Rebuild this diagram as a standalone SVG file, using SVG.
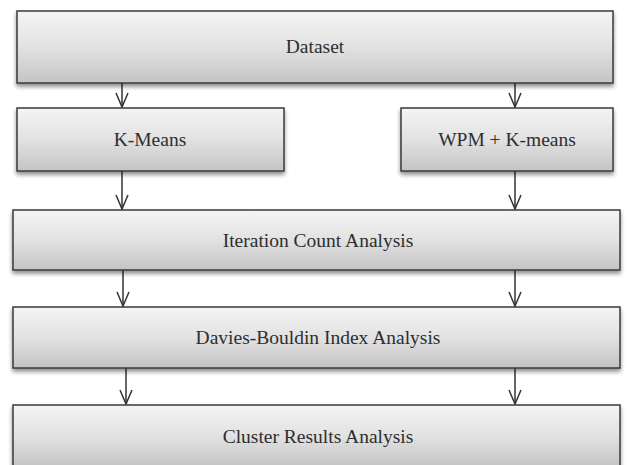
<svg xmlns="http://www.w3.org/2000/svg" width="637" height="465" viewBox="0 0 637 465">
<defs>
<linearGradient id="g" x1="0" y1="0" x2="0" y2="1">
<stop offset="0" stop-color="#f4f4f4"/>
<stop offset="0.5" stop-color="#e2e2e2"/>
<stop offset="1" stop-color="#c4c4c4"/>
</linearGradient>
<filter id="sh" x="-5%" y="-20%" width="110%" height="150%">
<feGaussianBlur in="SourceAlpha" stdDeviation="2"/>
<feOffset dx="0" dy="3" result="b"/>
<feComponentTransfer><feFuncA type="linear" slope="0.45"/></feComponentTransfer>
<feMerge><feMergeNode/><feMergeNode in="SourceGraphic"/></feMerge>
</filter>
<marker id="ah" viewBox="0 0 16 14" refX="15" refY="7" markerWidth="16" markerHeight="14" markerUnits="userSpaceOnUse" orient="auto">
<path d="M1,1 L15,7 L1,13" fill="none" stroke="#333" stroke-width="1.5"/>
</marker>
</defs>
<style>
.box{fill:url(#g);stroke:#3a3a3a;stroke-width:1.5;filter:url(#sh)}
.t{font-family:"Liberation Serif","Times New Roman",serif;font-size:19.5px;fill:#2e2e2e;text-anchor:middle;dominant-baseline:central}
.c{stroke:#333;stroke-width:1.5;fill:none;marker-end:url(#ah)}
</style>
<rect width="637" height="465" fill="#ffffff"/>
<g id="connectors">
<line class="c" x1="122" y1="83" x2="122" y2="107"/>
<line class="c" x1="515" y1="83" x2="515" y2="107"/>
<line class="c" x1="122" y1="171" x2="122" y2="209"/>
<line class="c" x1="515" y1="171" x2="515" y2="209"/>
<line class="c" x1="123" y1="270" x2="123" y2="306"/>
<line class="c" x1="515" y1="270" x2="515" y2="306"/>
<line class="c" x1="126" y1="368" x2="126" y2="404"/>
<line class="c" x1="515" y1="368" x2="515" y2="404"/>
</g>
<g id="dataset"><rect class="box" x="17" y="11" width="596" height="72"/><text class="t" x="315" y="46">Dataset</text></g>
<g id="kmeans"><rect class="box" x="17" y="108" width="267" height="63"/><text class="t" x="150" y="139">K-Means</text></g>
<g id="wpm"><rect class="box" x="401" y="108" width="212" height="63"/><text class="t" x="507" y="139">WPM + K-means</text></g>
<g id="iteration"><rect class="box" x="13" y="210" width="607" height="60"/><text class="t" x="318" y="240">Iteration Count Analysis</text></g>
<g id="davies"><rect class="box" x="13" y="307" width="607" height="61"/><text class="t" x="318" y="337">Davies-Bouldin Index Analysis</text></g>
<g id="cluster"><rect class="box" x="13" y="405" width="607" height="62"/><text class="t" x="318" y="436">Cluster Results Analysis</text></g>
</svg>
